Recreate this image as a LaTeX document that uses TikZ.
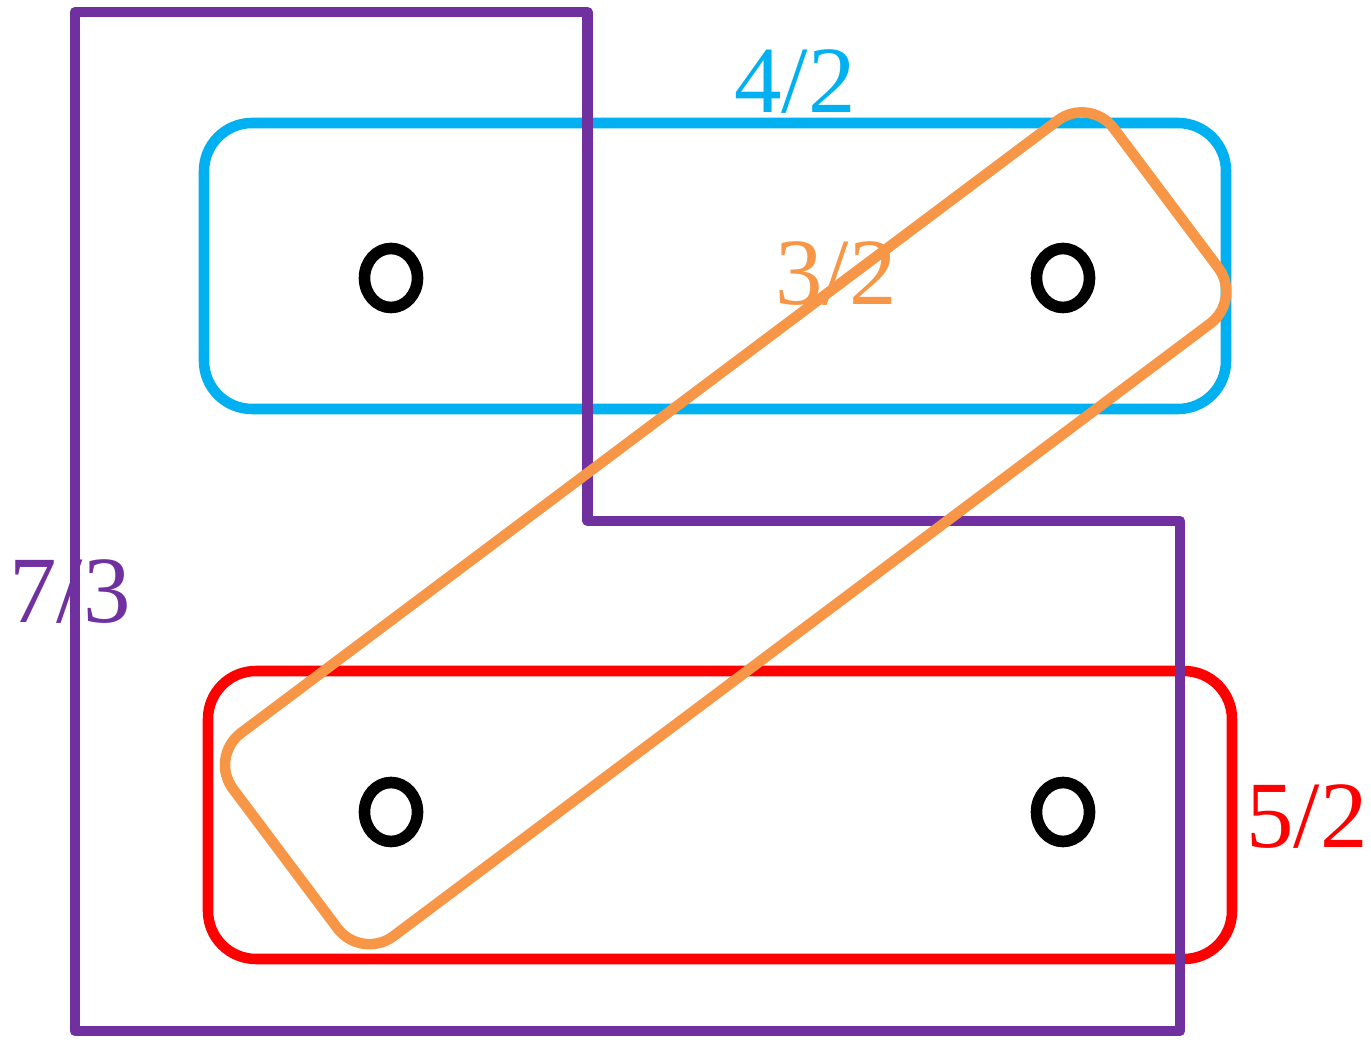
\documentclass[tikz,border=0pt]{standalone}
\usepackage{fontspec}
\newfontfamily\labelfont{LiberationSerif-Regular.ttf}
\usetikzlibrary{shapes.geometric, positioning, calc}
\usepackage{xcolor}
\definecolor{hgBlue}  {RGB}{0,   176, 240}
\definecolor{hgRed}   {RGB}{255, 0,   0}
\definecolor{hgPurple}{RGB}{112, 48,  160}
\definecolor{hgOrange}{RGB}{247, 150, 70}

\begin{document}
\begin{tikzpicture}[
    vertex/.style={draw=black, ellipse, line width=3.3pt, inner sep=0pt,
                   minimum width=0.53cm, minimum height=0.59cm},
    edgebox/.style={line width=3pt, rounded corners=0.48cm},
    weight/.style={anchor=base, inner sep=0pt,
                   font=\labelfont\fontsize{27}{32}\selectfont}]
  \useasboundingbox (0,0) rectangle (13.71,10.39);

  % ---- weights ----
  \node[weight, text=hgBlue]   (w1) at (7.95, 9.26) {4/2};
  \node[weight, text=hgOrange] (w3) at (8.36, 7.34) {3/2};
  \node[weight, text=hgPurple] (w4) at (0.70, 4.16) {7/3};
  \node[weight, text=hgRed]    (w2) at (13.07, 1.91) {5/2};

  % ---- vertices ----
  \node[vertex] (v1) at (3.91, 7.61) {};
  \node[vertex] (v2) at (10.63, 7.61) {};
  \node[vertex] (v3) at (3.91, 2.27) {};
  \node[vertex] (v4) at (10.63, 2.27) {};

  % ---- hyperedge 1: top row ----
  \draw[edgebox, hgBlue] (2.04, 6.30) rectangle (12.26, 9.16);

  % ---- hyperedge 2: bottom row ----
  \draw[edgebox, hgRed] (2.08, 0.80) rectangle (12.32, 3.68);

  % ---- hyperedge 4: L-shaped region ----
  \draw[line width=3pt, line join=round, hgPurple]
    (0.75, 10.27) -- (5.875, 10.27) -- (5.875, 5.18) --
    (11.80, 5.18) -- (11.80, 0.08) -- (0.75, 0.08) -- cycle;

  % ---- hyperedge 3: diagonal (rotated box) ----
  \node[draw=hgOrange, line width=3pt, rounded corners=0.4cm,
        rotate=36.87, minimum width=11.01cm, minimum height=2.54cm,
        inner sep=0pt] (e3) at (7.256, 5.107) {};
\end{tikzpicture}
\end{document}
